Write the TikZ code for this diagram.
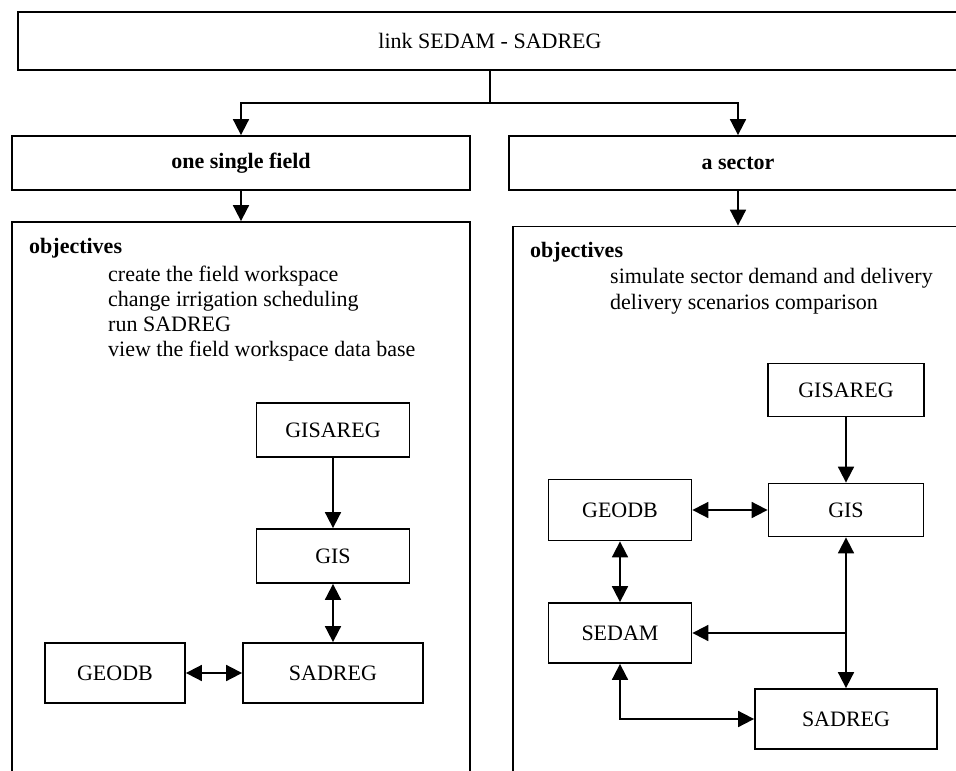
\documentclass[tikz,border=0pt]{standalone}
\usepackage{fontspec}
\setmainfont{Liberation Serif}
\usetikzlibrary{arrows.meta}

\tikzset{
  box/.style={draw, line width=1.8pt, inner sep=0pt},
  modbox/.style={box, minimum width=#1, minimum height=56pt},
  link/.style={line width=1.8pt},
  label/.style={anchor=base west, inner sep=0pt}
}

\begin{document}
\begin{tikzpicture}[x=1pt, y=-1pt, >={Triangle[length=16pt,width=16pt]},
  font=\fontsize{22}{25}\selectfont]
  \useasboundingbox (0,0) rectangle (956,771);
  \clip (0,0) rectangle (956,771);

  % levels
  \node[box, minimum width=944pt, minimum height=58pt] (link) at (490,41) {link SEDAM - SADREG};
  \node[box, minimum width=458pt, minimum height=54pt, font=\fontsize{22}{25}\selectfont\bfseries] (field) at (241,163) {one single field};
  \node[box, minimum width=458pt, minimum height=54pt, font=\fontsize{22}{25}\selectfont\bfseries] (sector) at (738,163) {a sector};
  \node[box, minimum width=458pt, minimum height=580pt] (fieldpanel) at (241,512) {};
  \node[box, minimum width=450pt, minimum height=575pt] (sectorpanel) at (738,514) {};
  \coordinate (split) at (490,103);
  \draw[link] (link) -- (split);
  \draw[link, ->] (split) -| (field);
  \draw[link, ->] (split) -| (sector);
  \draw[link, ->] (field) -- (fieldpanel);
  \draw[link, ->] (sector) -- (sectorpanel);

  % objectives
  \node[label, font=\fontsize{22}{25}\selectfont\bfseries] (fieldobj) at (29,253) {objectives};
  \foreach \t [count=\i] in {create the field workspace, change irrigation scheduling,
      run SADREG, view the field workspace data base}
    \node[label] (fieldobj-\i) at (108,256+25*\i) {\t};
  \node[label, font=\fontsize{22}{25}\selectfont\bfseries] (sectorobj) at (530,257) {objectives};
  \foreach \t [count=\i] in {simulate sector demand and delivery, delivery scenarios comparison}
    \node[label] (sectorobj-\i) at (610,257+26*\i) {\t};

  % one single field
  \node[modbox=153pt, minimum height=54pt] (gisareg1) at (333,430) {GISAREG};
  \node[modbox=153pt, minimum height=54pt] (gis1) at (333,556) {GIS};
  \node[modbox=180pt, minimum height=60pt] (sadreg1) at (333,673) {SADREG};
  \node[modbox=140pt, minimum height=60pt] (geodb1) at (115,673) {GEODB};
  \draw[link, ->] (gisareg1) -- (gis1);
  \draw[link, <->] (gis1) -- (sadreg1);
  \draw[link, <->] (geodb1) -- (sadreg1);

  % a sector
  \node[modbox=156pt, minimum height=53pt] (gisareg2) at (846,390) {GISAREG};
  \node[modbox=155pt, minimum height=53pt] (gis2) at (846,510) {GIS};
  \node[modbox=143pt, minimum height=61pt] (geodb2) at (620,510) {GEODB};
  \node[modbox=143pt, minimum height=60pt] (sedam2) at (620,633) {SEDAM};
  \node[modbox=182pt, minimum height=60pt] (sadreg2) at (846,719) {SADREG};
  \coordinate (branch) at (846,633);
  \draw[link, ->] (gisareg2) -- (gis2);
  \draw[link, <->] (geodb2) -- (gis2);
  \draw[link, <->] (geodb2) -- (sedam2);
  \draw[link, <->] (gis2) -- (sadreg2);
  \draw[link, ->] (branch) -- (sedam2);
  \draw[link, <->] (sedam2) |- (sadreg2);
\end{tikzpicture}
\end{document}
